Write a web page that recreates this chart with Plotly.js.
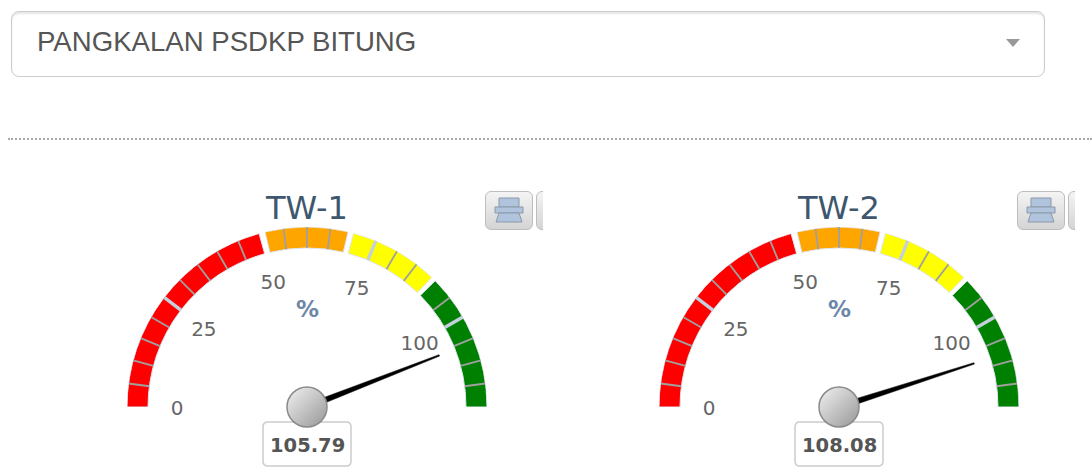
<!DOCTYPE html>
<html>
<head>
<meta charset="utf-8">
<script src="https://cdn.plot.ly/plotly-3.0.1.min.js"></script>
<style>
html,body{margin:0;padding:0;background:#fff;width:1092px;height:467px;overflow:hidden}
#chart{position:absolute;left:0;top:0;width:1092px;height:467px}
#select{position:absolute;left:11px;top:11px;width:1032px;height:64px;border:1px solid #ccc;border-radius:8px;box-shadow:inset 0 2px 2px rgba(0,0,0,.10);
 font:27.6px "Liberation Sans",Arial,sans-serif;color:#555;line-height:60px;text-indent:25px;white-space:nowrap}
#caret{position:absolute;left:1006px;top:39px;width:0;height:0;border-left:7px solid transparent;border-right:7px solid transparent;border-top:8px solid #999}
#sep{position:absolute;left:8px;top:138px;width:1084px;border-top:2px dotted #a8a8a8}
.btn{position:absolute;top:191px;width:46px;height:37px;border:1px solid #bdbdbd;border-radius:6px;background:linear-gradient(#f4f4f4,#d4d4d4);box-sizing:content-box}
.clip{position:absolute;top:185px;height:50px;overflow:hidden}
</style>
</head>
<body>
<div id="chart"></div>
<div id="select">PANGKALAN PSDKP BITUNG</div>
<div id="caret"></div>
<div id="sep"></div>
<div id="buttons"></div>
<script>
// ---- data ----
var gaugeTitles = ['TW-1', 'TW-2'];
var gaugeValues = [105.79, 108.08];
var unitLabel = '%';
var selectedUnit = 'PANGKALAN PSDKP BITUNG';
var bandStart = [0, 51, 70, 90.3];
var bandEnd = [49.7, 68.8, 89.3, 120];
var bandColors = ['#ff0000', '#ffa500', '#ffff00', '#008000'];
var labelValues = [0, 25, 50, 75, 100];
var majorTicks = [25, 75, 100];
var minorTicks = [5, 10, 15, 20, 30, 35, 40, 45, 55, 60, 65, 80, 85, 95, 105, 110, 115];
var axisMax = 120;

// ---- layout of the two gauges, in page pixels ----
var W = 1092, H = 467;
var centers = [307, 839], cy = 407, R = 180, inner = 159;
var deg = 180 / axisMax;
function a(v) { return v * deg; }
function segs(list) {
  var r = [], t = [];
  list.forEach(function (v) { r.push(inner, R, null); t.push(a(v), a(v), null); });
  return { r: r, theta: t };
}

var traces = [], shapes = [], annotations = [], layout = {};
function px(x) { return x / W; }
function py(y) { return 1 - y / H; }

centers.forEach(function (cx, i) {
  var sp = i === 0 ? 'polar' : 'polar2';
  layout[sp] = {
    domain: { x: [px(cx - R), px(cx + R)], y: [py(cy), py(cy - R)] },
    sector: [0, 180],
    bgcolor: 'rgba(0,0,0,0)',
    radialaxis: { range: [0, R], visible: false },
    angularaxis: { rotation: 180, direction: 'clockwise', visible: false }
  };
  // bands
  traces.push({
    type: 'barpolar', subplot: sp, hoverinfo: 'skip',
    r: bandStart.map(function () { return R - inner; }),
    base: bandStart.map(function () { return inner; }),
    theta: bandStart.map(function (s, k) { return a((s + bandEnd[k]) / 2); }),
    width: bandStart.map(function (s, k) { return a(bandEnd[k] - s); }),
    marker: { color: bandColors, line: { color: '#dde6f0', width: 1 } }
  });
  // ticks
  var mi = segs(minorTicks), ma = segs(majorTicks);
  traces.push({ type: 'scatterpolar', subplot: sp, mode: 'lines', hoverinfo: 'skip', connectgaps: false,
    r: mi.r, theta: mi.theta, line: { color: '#a0a0a0', width: 1.8 } });
  traces.push({ type: 'scatterpolar', subplot: sp, mode: 'lines', hoverinfo: 'skip', connectgaps: false,
    r: ma.r, theta: ma.theta, line: { color: '#c4d0dc', width: 3.4 } });
  // tick labels
  traces.push({ type: 'scatterpolar', subplot: sp, mode: 'text', hoverinfo: 'skip',
    r: labelValues.map(function () { return 130; }),
    theta: labelValues.map(a),
    text: labelValues.map(String),
    textposition: 'middle center',
    textfont: { family: 'DejaVu Sans', size: 20, color: '#666666' } });
  // needle
  var v = a(gaugeValues[i]);
  traces.push({ type: 'scatterpolar', subplot: sp, mode: 'lines', hoverinfo: 'skip', fill: 'toself', fillcolor: '#000',
    r: [142, 3, 3, 142, 142], theta: [v + 0.3, v + 90, v - 90, v - 0.3, v + 0.3], line: { color: '#000', width: 0.5 } });
  // pivot
  traces.push({ type: 'scatterpolar', subplot: sp, mode: 'markers', hoverinfo: 'skip',
    r: [0], theta: [0],
    marker: { size: 40, color: '#f2f2f2', gradient: { type: 'vertical', color: '#969696' },
      line: { color: '#8a8a8a', width: 1.5 } } });

  // title, unit, value
  annotations.push({ xref: 'paper', yref: 'paper', x: px(cx - 1), y: py(208), text: gaugeTitles[i], showarrow: false,
    xanchor: 'center', yanchor: 'middle', font: { family: 'DejaVu Sans', size: 32, color: '#3e576f' } });
  annotations.push({ xref: 'paper', yref: 'paper', x: px(cx), y: py(309), text: '<b>' + unitLabel + '</b>', showarrow: false,
    xanchor: 'center', yanchor: 'middle', font: { family: 'DejaVu Sans', size: 23, color: '#6d87a8' } });
  annotations.push({ xref: 'paper', yref: 'paper', x: px(cx), y: py(445), text: '<b>' + gaugeValues[i].toFixed(2) + '</b>', showarrow: false,
    xanchor: 'center', yanchor: 'middle', font: { family: 'DejaVu Sans', size: 19.5, color: '#555555' } });
  // rounded value box
  var x0 = px(cx - 44), x1 = px(cx + 44), y0 = py(422), y1 = py(466), rx = 5 / W, ry = 5 / H;
  shapes.push({ type: 'path', xref: 'paper', yref: 'paper', layer: 'below', fillcolor: '#fff',
    line: { color: '#cccccc', width: 1.5 },
    path: 'M' + (x0 + rx) + ' ' + y0 + ' L' + (x1 - rx) + ' ' + y0 + ' Q' + x1 + ' ' + y0 + ' ' + x1 + ' ' + (y0 - ry) +
      ' L' + x1 + ' ' + (y1 + ry) + ' Q' + x1 + ' ' + y1 + ' ' + (x1 - rx) + ' ' + y1 +
      ' L' + (x0 + rx) + ' ' + y1 + ' Q' + x0 + ' ' + y1 + ' ' + x0 + ' ' + (y1 + ry) +
      ' L' + x0 + ' ' + (y0 - ry) + ' Q' + x0 + ' ' + y0 + ' ' + (x0 + rx) + ' ' + y0 + ' Z' });
});

layout.width = W; layout.height = H;
layout.margin = { l: 0, r: 0, t: 0, b: 0 };
layout.paper_bgcolor = 'rgba(0,0,0,0)';
layout.showlegend = false;
layout.shapes = shapes;
layout.annotations = annotations;

// export buttons, clipped by the gauge container as in the page
var icon = '<svg width="46" height="37" viewBox="0 0 46 37" style="position:absolute;left:0;top:0">' +
  '<path d="M13 6h20v9H13z" fill="#b0c4de" stroke="#8c98a8"/>' +
  '<path d="M9 15h28v6H9z" fill="#b0c4de" stroke="#8c98a8"/>' +
  '<path d="M13 21h20l3 9H10z" fill="#b0c4de" stroke="#8c98a8"/></svg>';
var btnHtml = '';
[485, 1017].forEach(function (x) {
  btnHtml += '<div class="btn" style="left:' + x + 'px">' + icon + '</div>';
  btnHtml += '<div class="clip" style="left:' + (x + 51) + 'px;width:7px"><div class="btn" style="left:0;top:6px"></div></div>';
});
document.getElementById('buttons').innerHTML = btnHtml;
document.getElementById('select').textContent = selectedUnit;

Plotly.newPlot('chart', traces, layout, { staticPlot: true, displayModeBar: false }).then(function (gd) {
  gd.querySelectorAll('linearGradient').forEach(function (g) {
    g.setAttribute('x1', '1'); g.setAttribute('y1', '1');
    g.setAttribute('x2', '0'); g.setAttribute('y2', '0');
  });
  gd.querySelectorAll('.textpoint text').forEach(function (t) {
    t.setAttribute('y', String(parseFloat(t.getAttribute('y')) + 3));
  });
});
</script>
</body>
</html>
